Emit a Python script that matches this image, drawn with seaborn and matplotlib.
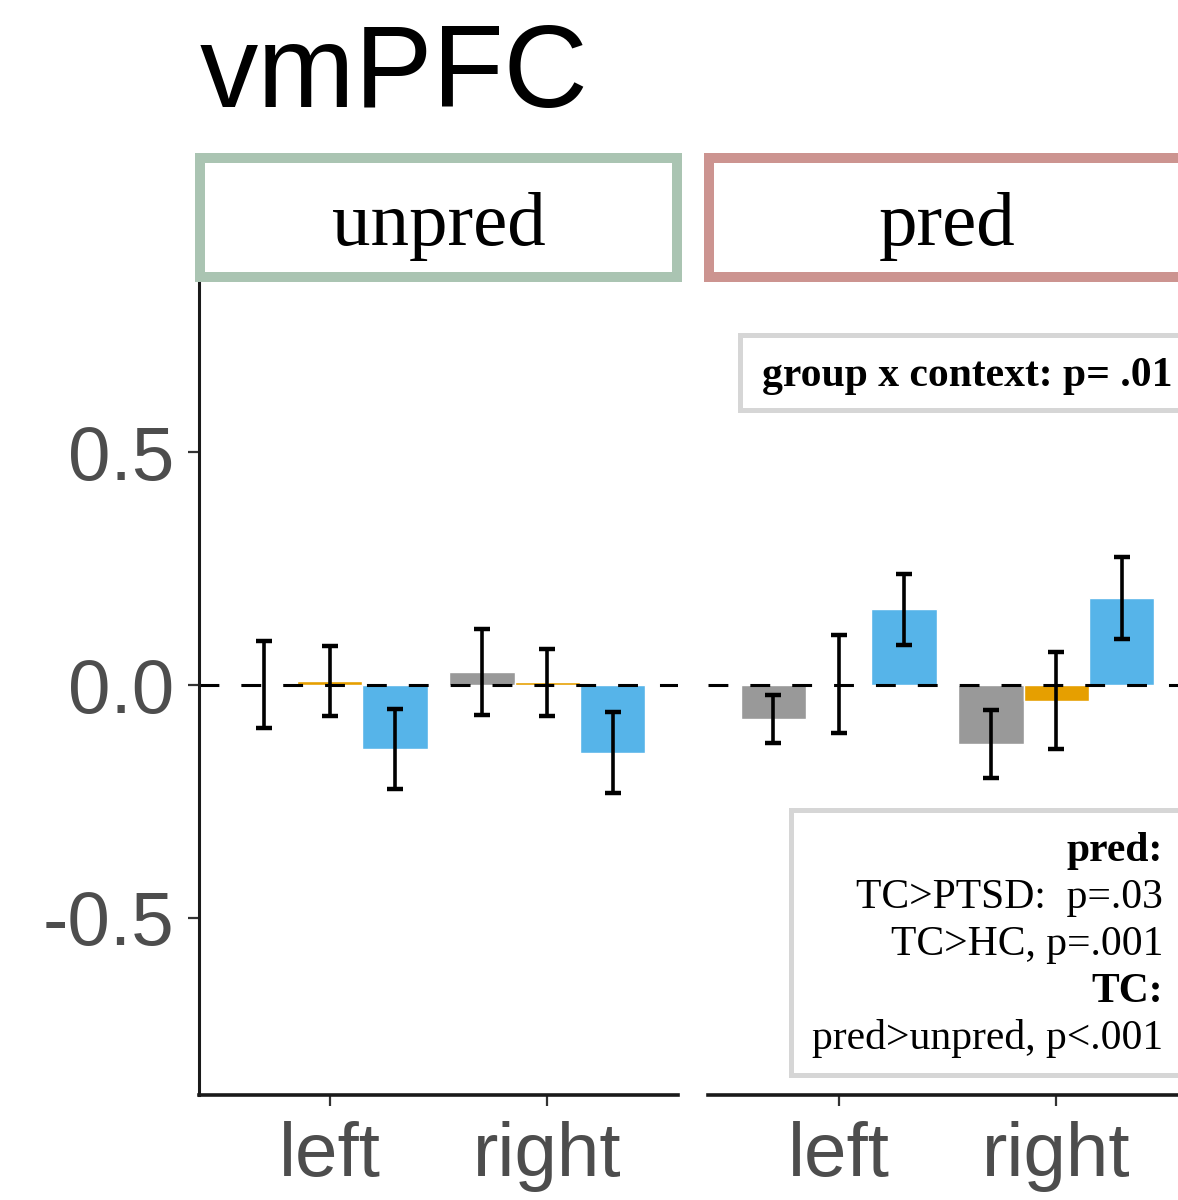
import matplotlib
matplotlib.use("Agg")
import matplotlib.pyplot as plt
from matplotlib.patches import Rectangle
import seaborn as sns
import pandas as pd

# ---- data ----
contexts = ["unpred", "pred"]
sides = ["left", "right"]
groups = ["HC", "PTSD", "TC"]

hc_unpred = [0.001, 0.028]
ptsd_unpred = [0.008, 0.006]
tc_unpred = [-0.137, -0.145]
hc_pred = [-0.073, -0.127]
ptsd_pred = [0.003, -0.034]
tc_pred = [0.163, 0.187]

hc_unpred_se = [0.094, 0.093]
ptsd_unpred_se = [0.075, 0.072]
tc_unpred_se = [0.086, 0.087]
hc_pred_se = [0.052, 0.073]
ptsd_pred_se = [0.105, 0.104]
tc_pred_se = [0.076, 0.088]

yticks = [-0.5, 0.0, 0.5]
ytick_labels = ["-0.5", "0.0", "0.5"]

title = "vmPFC"
box1_text = "group x context: p= .01"
box2_lines = ["pred:", "TC>PTSD:  p=.03", "TC>HC, p=.001", "TC:", "pred>unpred, p<.001"]
box2_bold = [True, False, False, True, False]

palette = {"HC": "#999999", "PTSD": "#E69F00", "TC": "#56B4E9"}
strip_colors = {"unpred": "#AAC4B2", "pred": "#CC9490"}

means = {"unpred": [hc_unpred, ptsd_unpred, tc_unpred],
         "pred": [hc_pred, ptsd_pred, tc_pred]}
ses = {"unpred": [hc_unpred_se, ptsd_unpred_se, tc_unpred_se],
       "pred": [hc_pred_se, ptsd_pred_se, tc_pred_se]}

rows = []
for c in contexts:
    for g, vals, errs in zip(groups, means[c], ses[c]):
        for s, v, e in zip(sides, vals, errs):
            rows.append({"context": c, "group": g, "side": s, "value": v, "se": e})
df = pd.DataFrame(rows)

# ---- figure ----
sns.set_theme(style="white")
plt.rcParams["font.family"] = ["Liberation Sans", "DejaVu Sans"]
W, H = 1178, 1200
fig = plt.figure(figsize=(W / 100, H / 100), dpi=100)
fig.patch.set_facecolor("white")

def fx(px):
    return px / W

def fy(py):
    return 1 - py / H

panel_left = [199, 708]
panel_w = 479
panel_top, panel_bot = 283, 1095

serif = ["Liberation Serif", "DejaVu Serif"]

for i, c in enumerate(contexts):
    ax = fig.add_axes([fx(panel_left[i]), fy(panel_bot), panel_w / W, (panel_bot - panel_top) / H])
    sub = df[df.context == c]
    sns.barplot(data=sub, x="side", y="value", hue="group", order=sides, hue_order=groups,
                palette=palette, width=0.9, errorbar=None, saturation=1, legend=False,
                ax=ax, zorder=1)
    ax.axhline(0, color="black", lw=2.2, dashes=(6.5, 7.2), zorder=2)
    for cont, g in zip(ax.containers, groups):
        xs = [p.get_x() + p.get_width() / 2 for p in cont.patches]
        ys = [p.get_height() for p in cont.patches]
        err = sub[sub.group == g].set_index("side").loc[sides, "se"].values
        ax.errorbar(xs, ys, yerr=err, fmt="none", ecolor="black", elinewidth=2.6,
                    capsize=5.5, capthick=3.2, zorder=3)
    ax.set_xlim(-0.6, 1.6)
    ax.set_ylim(-0.880, 0.863)
    ax.set_xlabel("")
    ax.set_ylabel("")
    ax.set_facecolor("none")
    for sp in ["top", "right"]:
        ax.spines[sp].set_visible(False)
    ax.spines["bottom"].set_linewidth(2.6)
    ax.spines["bottom"].set_color("#1a1a1a")
    ax.spines["left"].set_linewidth(2.2)
    ax.spines["left"].set_color("#1a1a1a")
    ax.tick_params(axis="x", length=8, width=1.6, color="#333333", labelsize=55,
                   labelcolor="#4D4D4D", pad=11, bottom=True)
    if i == 0:
        ax.set_yticks(yticks)
        ax.set_yticklabels(ytick_labels)
        ax.tick_params(axis="y", length=8, width=1.6, color="#333333", labelsize=55,
                       labelcolor="#4D4D4D", pad=10, left=True)
    else:
        ax.spines["left"].set_visible(False)
        ax.set_yticks([])

    # strip
    sx0 = panel_left[i] - 4 + 5
    sx1 = panel_left[i] + panel_w + 4 - 5
    sy0, sy1 = 158, 277
    fig.add_artist(Rectangle((fx(sx0), fy(sy1)), fx(sx1) - fx(sx0), fy(sy0) - fy(sy1),
                             transform=fig.transFigure, facecolor="white",
                             edgecolor=strip_colors[c], linewidth=7.2, zorder=4))
    fig.text(fx((sx0 + sx1) / 2), fy(245), c, ha="center", va="baseline",
             fontsize=55.5, family=serif, color="black", zorder=5)

# title
fig.text(fx(200), fy(107), title, ha="left", va="baseline", fontsize=84,
         color="black", family=["Liberation Sans", "DejaVu Sans"])

# annotation box 1
fig.add_artist(Rectangle((fx(739.5), fy(409.5)), fx(1250) - fx(739.5), fy(334.5) - fy(409.5),
                         transform=fig.transFigure, facecolor="white",
                         edgecolor="#D6D6D6", linewidth=3.6, zorder=6))
fig.text(fx(1172), fy(386), box1_text, ha="right", va="baseline", fontsize=30,
         fontweight="bold", family=serif, color="black", zorder=7)

# annotation box 2
fig.add_artist(Rectangle((fx(790.5), fy(1074.5)), fx(1250) - fx(790.5), fy(809.5) - fy(1074.5),
                         transform=fig.transFigure, facecolor="white",
                         edgecolor="#D6D6D6", linewidth=3.6, zorder=6))
baselines = [861, 908, 955, 1002, 1049]
for line, bold, b in zip(box2_lines, box2_bold, baselines):
    fig.text(fx(1163), fy(b), line, ha="right", va="baseline", fontsize=30,
             fontweight="bold" if bold else "normal", family=serif, color="black", zorder=7)

fig.savefig("out.png", dpi=100, facecolor="white")
